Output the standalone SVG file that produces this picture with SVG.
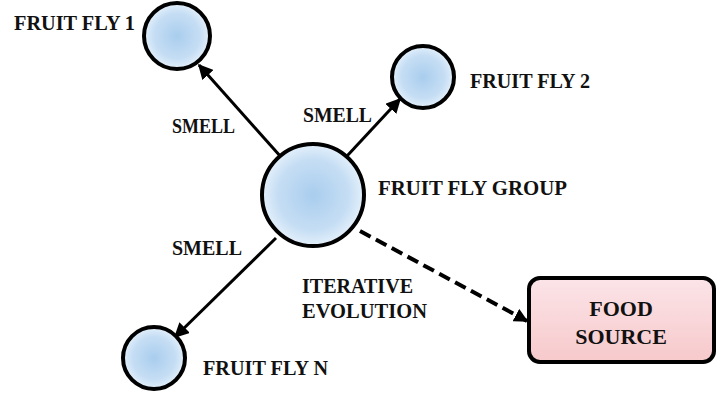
<svg xmlns="http://www.w3.org/2000/svg" width="721" height="402" viewBox="0 0 721 402">
<defs>
<radialGradient id="bub" cx="50%" cy="50%" r="50%">
<stop offset="0" stop-color="#a9cdee"/>
<stop offset="0.7" stop-color="#c6def4"/>
<stop offset="1" stop-color="#e4f0fb"/>
</radialGradient>
<linearGradient id="box" x1="0" y1="0" x2="0" y2="1">
<stop offset="0" stop-color="#fbe4e8"/>
<stop offset="1" stop-color="#f7c9cb"/>
</linearGradient>
<marker id="ah" viewBox="0 0 10 10" refX="9" refY="5" markerWidth="5" markerHeight="5" orient="auto" markerUnits="strokeWidth">
<path d="M0,0 L10,5 L0,10 z" fill="#000"/>
</marker>
<marker id="ahd" viewBox="0 0 10 10" refX="9" refY="5" markerWidth="3.5" markerHeight="3.5" orient="auto" markerUnits="strokeWidth">
<path d="M0,0 L10,5 L0,10 z" fill="#000"/>
</marker>
</defs>
<style>
.c{fill:url(#bub);stroke:#000;stroke-width:4}
.t{font-family:"Liberation Serif","Times New Roman",serif;font-weight:bold;font-size:21px;fill:#111}
.a{stroke:#000;stroke-width:3;fill:none;marker-end:url(#ah)}
</style>
<rect width="721" height="402" fill="#fff"/>
<g id="connectors">
<line class="a" x1="281" y1="157" x2="199" y2="65"/>
<line class="a" x1="347" y1="156" x2="400" y2="99"/>
<line class="a" x1="276" y1="238" x2="175" y2="337"/>
<line class="a" x1="360" y1="231" x2="527" y2="321" style="stroke-width:4;stroke-dasharray:12 6;marker-end:url(#ahd)"/>
</g>
<g id="group">
<circle class="c" cx="313" cy="195" r="51"/>
<text class="t" x="378" y="195" textLength="189" lengthAdjust="spacingAndGlyphs">FRUIT FLY GROUP</text>
</g>
<g id="fly1">
<circle class="c" cx="177" cy="36" r="33"/>
<text class="t" x="14" y="30" textLength="121" lengthAdjust="spacingAndGlyphs">FRUIT FLY 1</text>
</g>
<g id="fly2">
<circle class="c" cx="423" cy="77" r="31"/>
<text class="t" x="470" y="88" textLength="120" lengthAdjust="spacingAndGlyphs">FRUIT FLY 2</text>
</g>
<g id="flyN">
<circle class="c" cx="154" cy="358" r="31"/>
<text class="t" x="203" y="375" textLength="125" lengthAdjust="spacingAndGlyphs">FRUIT FLY N</text>
</g>
<g id="food">
<rect x="529" y="278" width="185" height="84" rx="11" fill="url(#box)" stroke="#000" stroke-width="4"/>
<text class="t" x="621" y="316" text-anchor="middle" style="font-size:22px">FOOD</text>
<text class="t" x="621" y="344" text-anchor="middle" style="font-size:22px">SOURCE</text>
</g>
<g id="labels">
<text class="t" x="172" y="133" textLength="63" lengthAdjust="spacingAndGlyphs">SMELL</text>
<text class="t" x="303" y="122" textLength="69" lengthAdjust="spacingAndGlyphs">SMELL</text>
<text class="t" x="172" y="255" textLength="70" lengthAdjust="spacingAndGlyphs">SMELL</text>
<text class="t" x="302" y="293" textLength="111" lengthAdjust="spacingAndGlyphs">ITERATIVE</text>
<text class="t" x="302" y="318" textLength="125" lengthAdjust="spacingAndGlyphs">EVOLUTION</text>
</g>
</svg>
